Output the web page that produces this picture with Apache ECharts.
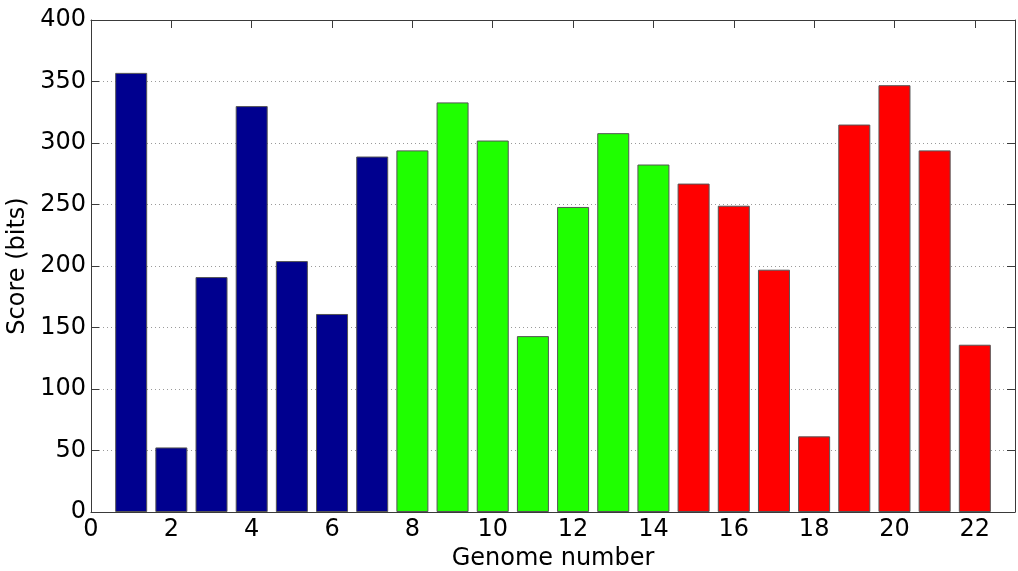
<!DOCTYPE html>
<html>
<head>
<meta charset="utf-8">
<script src="https://cdn.jsdelivr.net/npm/echarts@6/dist/echarts.min.js"></script>
<style>
html,body{margin:0;padding:0;background:#fff;}
#chart{width:1018px;height:571px;}
</style>
</head>
<body>
<div id="chart"></div>
<script>
// Data
var genomes = [1,2,3,4,5,6,7,8,9,10,11,12,13,14,15,16,17,18,19,20,21,22];
var scores  = [357,52.5,191,330,204,161,289,294,333,302,143,248,308,282.5,267,249,197,61.5,315,347,294,136];
var groups  = [0,0,0,0,0,0,0,1,1,1,1,1,1,1,2,2,2,2,2,2,2,2];
var groupColors = ['#00008f', '#1fff00', '#ff0000'];
var xTicks = [0,2,4,6,8,10,12,14,16,18,20,22];
var yTicks = [0,50,100,150,200,250,300,350,400];

var font = 'DejaVu Sans';
var axisColor = '#3a3a3a';

var barData = genomes.map(function(g, i){
  return {value: [g, scores[i]], itemStyle: {color: groupColors[groups[i]]}};
});

var chart = echarts.init(document.getElementById('chart'), null, {renderer:'canvas'});
var baseX = {
  type: 'value', min: 0, max: 23, interval: 2,
  axisLine: {show: true, onZero: false, lineStyle: {color: axisColor, width: 1}},
  axisTick: {show: true, inside: true, length: 8, lineStyle: {color: axisColor}},
  splitLine: {show: false}
};
var baseY = {
  type: 'value', min: yTicks[0], max: yTicks[yTicks.length-1], interval: 50,
  axisLine: {show: true, onZero: false, lineStyle: {color: axisColor, width: 1}},
  axisTick: {show: true, inside: true, length: 8, lineStyle: {color: axisColor}}
};
chart.setOption({
  animation: false,
  backgroundColor: '#fff',
  grid: {left: 91, top: 20, right: 3, bottom: 59, containLabel: false, outerBoundsMode: 'none'},
  xAxis: [
    Object.assign({}, baseX, {
      position: 'bottom',
      name: 'Genome number', nameLocation: 'middle', nameGap: 24,
      nameTextStyle: {fontFamily: font, fontSize: 24, color: '#000'},
      axisLabel: {show: true, margin: 6, fontFamily: font, fontSize: 24, color: '#000',
        formatter: function(v){ return xTicks.indexOf(v) >= 0 ? String(v) : ''; }}
    }),
    Object.assign({}, baseX, {position: 'top', axisLabel: {show: false}})
  ],
  yAxis: [
    Object.assign({}, baseY, {
      position: 'left',
      name: 'Score (bits)', nameLocation: 'middle', nameGap: 58,
      nameTextStyle: {fontFamily: font, fontSize: 24, color: '#000'},
      axisLabel: {show: true, margin: 5, fontFamily: font, fontSize: 24, color: '#000'},
      splitLine: {show: true, lineStyle: {color: '#9a9a9a', type: [1, 3], width: 1}}
    }),
    Object.assign({}, baseY, {position: 'right', axisLabel: {show: false}, splitLine: {show: false}})
  ],
  series: [{
    type: 'bar',
    xAxisIndex: 0, yAxisIndex: 0,
    barWidth: 32,
    data: barData,
    itemStyle: {borderColor: '#555', borderWidth: 1},
    z: 3
  }]
});
</script>
</body>
</html>
